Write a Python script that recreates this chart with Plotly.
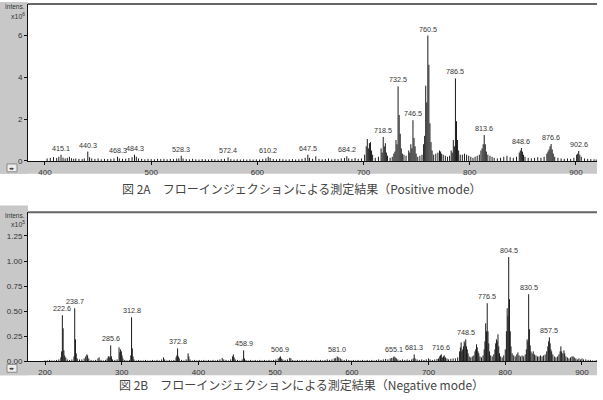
import plotly.graph_objects as go

W, H = 603, 400

# ---------------- data: Positive mode (x10^6) ----------------
pos_mz = [402, 405, 408, 411, 413, 415.1, 417, 419, 421, 423, 425, 427, 429, 432, 435, 437, 440.3, 442, 444, 447,
          450, 453, 456, 459, 462, 465, 468.3, 470, 473, 476, 479, 482, 484.3, 486, 488, 491, 494, 497, 500, 503,
          506, 509, 512, 515, 518, 521, 524, 526, 528.3, 530, 533, 536, 539, 542, 545, 548, 551, 554, 557, 560,
          563, 566, 569, 572.4, 575, 578, 581, 584, 587, 590, 593, 596, 599, 602, 605, 608, 610.2, 612, 615, 618,
          621, 624, 627, 630, 633, 636, 639, 642, 645, 647.5, 649, 652, 655, 658, 661, 664, 667, 670, 673, 676,
          679, 682, 684.2, 686, 689, 692, 695, 698, 701, 702.5, 703.5, 704.5, 705.5, 706.5, 707.5, 708.5, 711, 714,
          716.5, 717.5, 718.5, 719.5, 720.5, 721.5, 722.5, 725, 727, 728.5, 729.5, 730.5, 731.5, 732.5, 733.5, 734.5,
          735.5, 736.5, 738, 740, 742.5, 743.5, 744.5, 745.5, 746.5, 747.5, 748.5, 749.5, 751, 753, 755, 756.5,
          757.5, 758.5, 759.5, 760.5, 761.5, 762.5, 763.5, 764.5, 766, 768, 770, 771.5, 772.5, 773.5, 775, 777,
          779, 781, 782.5, 783.5, 784.5, 785.5, 786.5, 787.5, 788.5, 789.5, 791, 793, 795, 797, 799, 801, 803, 805,
          807, 809, 810.5, 811.6, 812.6, 813.6, 814.6, 815.6, 817, 819, 821, 823, 826, 829, 832, 835, 838, 841,
          844, 846.6, 847.6, 848.6, 849.6, 850.6, 852, 855, 858, 861, 864, 867, 870, 872.6, 873.6, 874.6, 875.6,
          876.6, 877.6, 878.6, 880, 883, 886, 889, 892, 895, 898, 900.6, 901.6, 902.6, 903.6, 905, 908, 911, 914,
          917, 919]
pos_int = [0.12, 0.15, 0.18, 0.14, 0.2, 0.3, 0.16, 0.12, 0.15, 0.2, 0.13, 0.1, 0.12, 0.1, 0.09, 0.12, 0.45, 0.18, 0.12, 0.1,
           0.12, 0.08, 0.1, 0.09, 0.1, 0.12, 0.2, 0.12, 0.1, 0.11, 0.14, 0.18, 0.3, 0.2, 0.12, 0.1, 0.08, 0.1, 0.09, 0.08,
           0.1, 0.09, 0.1, 0.08, 0.1, 0.09, 0.11, 0.12, 0.25, 0.12, 0.09, 0.08, 0.1, 0.08, 0.07, 0.09, 0.08, 0.07, 0.09, 0.08,
           0.07, 0.09, 0.1, 0.17, 0.09, 0.07, 0.08, 0.07, 0.08, 0.07, 0.08, 0.07, 0.08, 0.07, 0.09, 0.12, 0.2, 0.14, 0.09, 0.08,
           0.1, 0.08, 0.07, 0.08, 0.09, 0.07, 0.08, 0.1, 0.15, 0.3, 0.15, 0.1, 0.22, 0.1, 0.08, 0.09, 0.12, 0.08, 0.1, 0.09,
           0.12, 0.14, 0.22, 0.12, 0.1, 0.14, 0.1, 0.12, 0.3, 0.7, 1.05, 0.6, 0.85, 0.9, 0.5, 0.3, 0.15, 0.2,
           0.6, 0.4, 1.15, 0.7, 0.85, 0.4, 0.25, 0.15, 0.2, 0.35, 0.45, 1.0, 0.8, 3.57, 2.2, 1.3,
           0.6, 0.35, 0.3, 0.25, 0.5, 0.4, 0.8, 0.6, 1.95, 1.1, 0.7, 0.35, 0.2, 0.25, 0.3, 0.8,
           1.2, 3.6, 2.8, 6.0, 4.6, 1.8, 0.9, 0.5, 0.3, 0.35, 0.4, 0.5, 0.45, 0.35, 0.3, 0.25,
           0.2, 0.25, 0.5, 0.4, 1.0, 0.7, 3.95, 1.9, 1.0, 0.5, 0.3, 0.3, 0.35, 0.3, 0.25, 0.2, 0.15, 0.2,
           0.25, 0.3, 0.5, 0.6, 0.8, 1.24, 0.8, 0.45, 0.3, 0.25, 0.2, 0.15, 0.12, 0.15, 0.2, 0.25, 0.18, 0.15,
           0.2, 0.4, 0.5, 0.62, 0.45, 0.3, 0.2, 0.15, 0.12, 0.15, 0.18, 0.15, 0.2, 0.35, 0.45, 0.55, 0.7,
           0.81, 0.55, 0.35, 0.2, 0.15, 0.12, 0.1, 0.12, 0.1, 0.15, 0.3, 0.35, 0.48, 0.3, 0.2, 0.12, 0.1, 0.09,
           0.08, 0.07]
pos_label_mz = [415.1, 440.3, 468.3, 484.3, 528.3, 572.4, 610.2, 647.5, 684.2, 718.5, 732.5, 746.5,
                760.5, 786.5, 813.6, 848.6, 876.6, 902.6]
pos_xticks = [400, 500, 600, 700, 800, 900]
pos_yticks = [0, 2, 4, 6]
pos_ytext = ["0", "2", "4", "6"]

# ---------------- data: Negative mode (x10^5) ----------------
neg_mz = [200, 203, 206, 209, 212, 215, 218, 220.6, 221.6, 222.6, 223.6, 224.6, 225.6, 227, 229, 232, 235, 237.7, 238.7,
          239.7, 240.7, 242, 245, 248, 251, 253, 254.5, 255.5, 257, 260, 263, 266, 269, 270.5, 273, 276, 279, 281,
          282.5, 283.5, 284.6, 285.6, 286.6, 288, 291, 294, 296.5, 297.5, 298.5, 299.5, 300.5, 301.5, 304, 307, 310,
          311.8, 312.8, 313.8, 314.8, 316, 319, 322, 325, 328, 331, 334, 337, 340, 343, 346, 349, 352, 354.5, 356,
          359, 362, 365, 368, 370.8, 371.8, 372.8, 373.8, 375, 378, 381, 384, 386.5, 387.5, 389, 392, 395, 398, 401,
          404, 407, 410, 413, 416, 419, 422, 425, 428, 431, 433, 436, 439, 442, 444.5, 445.5, 446.5, 448, 451, 454,
          457, 458.9, 460, 462, 465, 468, 471, 474, 477, 480, 483, 486, 489, 492, 495, 498, 501, 504, 505.9, 506.9,
          508, 510, 513, 516, 519, 520.5, 523, 526, 529, 532, 535, 538, 541, 544, 547, 550, 553, 556, 559, 562, 565,
          568, 571, 574, 577, 579, 581.0, 583, 585, 587, 590, 593, 596, 599, 602, 605, 608, 611, 614, 617, 620, 623,
          626, 629, 632, 635, 638, 641, 644, 647, 650, 652, 654, 655.1, 656.5, 658, 660, 663, 666, 669, 672, 675,
          678, 680, 681.3, 682.5, 685, 688, 691, 694, 697, 700, 702, 705, 708, 711, 713, 714.6, 715.6, 716.6, 718,
          719.5, 720.5, 722, 724, 726, 729, 732, 735, 738, 740.5, 741.5, 742.5, 743.5, 744.5, 745.5, 746.5, 747.5,
          748.5, 749.5, 750.5, 751.5, 753, 755, 757, 759, 760.5, 761.5, 762.5, 763.5, 764.5, 765.5, 767, 769, 771,
          772.5, 773.5, 774.5, 775.5, 776.5, 777.5, 778.5, 779.5, 781, 783, 785, 786.5, 787.5, 788.5, 789.5, 790.5,
          791.5, 792.5, 794, 796, 798, 800, 801.5, 802.5, 803.5, 804.5, 805.5, 806.5, 807.5, 809, 811, 813, 815,
          816.5, 818, 820, 822, 824, 826, 827.5, 828.5, 829.5, 830.5, 831.5, 832.5, 833.5, 835, 836.5, 838, 840,
          842, 844, 846, 848, 850, 852, 854, 855.5, 856.5, 857.5, 858.5, 859.5, 860.5, 862, 864, 866, 868, 870,
          871.5, 872.5, 873.5, 875, 876.5, 877.5, 879, 881, 883, 885, 887, 888.5, 890, 892, 894, 896, 898, 900,
          902, 905, 908, 911, 914, 917, 919]
neg_int = [0.01, 0.01, 0.015, 0.01, 0.01, 0.015, 0.02, 0.04, 0.1, 0.46, 0.33, 0.11, 0.06, 0.04, 0.02, 0.015, 0.02, 0.05, 0.53,
           0.22, 0.08, 0.03, 0.02, 0.02, 0.03, 0.05, 0.07, 0.06, 0.03, 0.015, 0.01, 0.015, 0.03, 0.04, 0.015, 0.01, 0.015, 0.03,
           0.05, 0.05, 0.04, 0.16, 0.05, 0.02, 0.015, 0.02, 0.14, 0.09, 0.12, 0.1, 0.06, 0.03, 0.015, 0.01, 0.015,
           0.06, 0.44, 0.13, 0.05, 0.02, 0.01, 0.015, 0.01, 0.01, 0.015, 0.01, 0.01, 0.015, 0.01, 0.015, 0.01, 0.02, 0.04, 0.02,
           0.01, 0.015, 0.01, 0.015, 0.04, 0.06, 0.13, 0.05, 0.03, 0.015, 0.01, 0.02, 0.08, 0.05, 0.02, 0.01, 0.015, 0.01, 0.015,
           0.01, 0.015, 0.01, 0.015, 0.01, 0.015, 0.01, 0.015, 0.02, 0.035, 0.02, 0.015, 0.01, 0.02, 0.05, 0.07, 0.04, 0.02, 0.015, 0.01,
           0.02, 0.11, 0.03, 0.015, 0.01, 0.015, 0.01, 0.015, 0.01, 0.015, 0.01, 0.015, 0.01, 0.015, 0.01, 0.015, 0.02, 0.03, 0.04, 0.05,
           0.03, 0.02, 0.015, 0.02, 0.035, 0.03, 0.015, 0.01, 0.015, 0.01, 0.015, 0.01, 0.015, 0.01, 0.015, 0.01, 0.015, 0.01, 0.015, 0.01, 0.015,
           0.02, 0.015, 0.02, 0.03, 0.035, 0.05, 0.04, 0.03, 0.02, 0.015, 0.02, 0.015, 0.01, 0.015, 0.01, 0.015, 0.01, 0.015, 0.01, 0.015, 0.01,
           0.015, 0.01, 0.015, 0.02, 0.015, 0.02, 0.025, 0.02, 0.03, 0.035, 0.04, 0.05, 0.04, 0.03, 0.02, 0.015, 0.02, 0.015, 0.02, 0.015,
           0.02, 0.03, 0.07, 0.03, 0.02, 0.015, 0.02, 0.015, 0.02, 0.03, 0.02, 0.015, 0.02, 0.025, 0.03, 0.05, 0.06, 0.07, 0.04,
           0.05, 0.06, 0.04, 0.03, 0.02, 0.025, 0.03, 0.03, 0.04, 0.1, 0.14, 0.19, 0.1, 0.12, 0.15, 0.2, 0.18,
           0.22, 0.15, 0.12, 0.08, 0.05, 0.04, 0.05, 0.06, 0.1, 0.12, 0.17, 0.14, 0.1, 0.08, 0.05, 0.04, 0.06,
           0.12, 0.2, 0.38, 0.3, 0.58, 0.3, 0.18, 0.1, 0.06, 0.05, 0.07, 0.12, 0.18, 0.22, 0.2, 0.27,
           0.15, 0.08, 0.05, 0.04, 0.06, 0.12, 0.3, 0.53, 0.45, 1.04, 0.62, 0.3, 0.15, 0.08, 0.06, 0.05, 0.07,
           0.09, 0.06, 0.05, 0.06, 0.05, 0.07, 0.12, 0.22, 0.2, 0.67, 0.32, 0.16, 0.1, 0.08, 0.1, 0.07, 0.06,
           0.05, 0.05, 0.06, 0.05, 0.06, 0.07, 0.1, 0.15, 0.2, 0.24, 0.18, 0.12, 0.1, 0.07, 0.05, 0.04, 0.05, 0.07,
           0.1, 0.15, 0.1, 0.08, 0.11, 0.08, 0.05, 0.04, 0.03, 0.04, 0.05, 0.05, 0.04, 0.03, 0.02, 0.03, 0.02, 0.03,
           0.02, 0.02, 0.015, 0.015, 0.01, 0.01, 0.01]
neg_label_mz = [222.6, 238.7, 285.6, 312.8, 372.8, 458.9, 506.9, 581.0, 655.1, 681.3, 716.6, 748.5,
                776.5, 804.5, 830.5, 857.5]
neg_xticks = [200, 300, 400, 500, 600, 700, 800, 900]
neg_yticks = [0, 0.25, 0.5, 0.75, 1.0, 1.25]
neg_ytext = ["0.00", "0.25", "0.50", "0.75", "1.00", "1.25"]

caption_a = "図 2A　フローインジェクションによる測定結果（Positive mode）"
caption_b = "図 2B　フローインジェクションによる測定結果（Negative mode）"


def px(p):
    return p / W


def py(p):
    return 1 - p / H


def sticks(mz, inten):
    xs, ys = [], []
    for m, h in zip(mz, inten):
        xs += [m, m, None]
        ys += [0, h, None]
    return xs, ys


fig = go.Figure()
LINE = "#1c1c1c"
TXT = "#333333"
SMALL = dict(family="Liberation Sans, Arial, sans-serif", size=8, color=TXT)
PEAK = dict(family="Liberation Sans, Arial, sans-serif", size=7.2, color=TXT)

xs, ys = sticks(pos_mz, pos_int)
fig.add_trace(go.Scatter(x=xs, y=ys, mode="lines", line=dict(color=LINE, width=1),
                         xaxis="x", yaxis="y", showlegend=False, hoverinfo="skip"))
xs, ys = sticks(neg_mz, neg_int)
fig.add_trace(go.Scatter(x=xs, y=ys, mode="lines", line=dict(color=LINE, width=1),
                         xaxis="x2", yaxis="y2", showlegend=False, hoverinfo="skip"))

ax_common = dict(showline=True, linecolor="#111", linewidth=1, ticks="outside", ticklen=3,
                 tickcolor="#111", showgrid=False, zeroline=False, tickfont=SMALL, fixedrange=True)

fig.update_layout(
    width=W, height=H, margin=dict(l=0, r=0, t=0, b=0),
    paper_bgcolor="white", plot_bgcolor="white", showlegend=False,
    xaxis=dict(domain=[px(28), px(597)], range=[384, 919.8], anchor="y",
               tickvals=pos_xticks, **ax_common),
    yaxis=dict(domain=[py(163), py(4)], range=[0, 7.51], anchor="x",
               tickvals=pos_yticks, ticktext=pos_ytext, **ax_common),
    xaxis2=dict(domain=[px(28), px(597)], range=[177.8, 919.6], anchor="y2",
                tickvals=neg_xticks, **ax_common),
    yaxis2=dict(domain=[py(366), py(215)], range=[0, 1.486], anchor="x2",
                tickvals=neg_yticks, ticktext=neg_ytext, **ax_common),
)

GRAY = "#c8c8c8"
shapes = []
for top, base, bottom in [(2, 163, 176), (208, 366, 380)]:
    shapes.append(dict(type="rect", xref="paper", yref="paper", x0=0, x1=px(28),
                       y0=py(bottom), y1=py(top), fillcolor=GRAY, line=dict(width=0), layer="below"))
    shapes.append(dict(type="rect", xref="paper", yref="paper", x0=0, x1=px(597),
                       y0=py(bottom), y1=py(base), fillcolor=GRAY, line=dict(width=0), layer="below"))
    # icon box
    shapes.append(dict(type="rect", xref="paper", yref="paper", x0=px(7), x1=px(17),
                       y0=py(base + 11), y1=py(base + 3), fillcolor="#ececec",
                       line=dict(width=1, color="#8a8a8a"), layer="above"))
for ytop in [4, 215]:
    shapes.append(dict(type="line", xref="paper", yref="paper", x0=px(28), x1=px(597),
                       y0=py(ytop), y1=py(ytop), line=dict(color="#666", width=2)))
fig.update_layout(shapes=shapes)

ann = []
for lbl, mzs, ints, xr, yr in [(pos_label_mz, pos_mz, pos_int, "x", "y"),
                               (neg_label_mz, neg_mz, neg_int, "x2", "y2")]:
    lookup = dict(zip(mzs, ints))
    for m in lbl:
        ann.append(dict(x=m, y=lookup[m], xref=xr, yref=yr, text=f"{m:.1f}", showarrow=False,
                        yanchor="bottom", xanchor="center", yshift=0, font=PEAK))

for ytext, yexp, exp, base in [(7, 16, "6", 163), (218, 227, "5", 366)]:
    ann.append(dict(x=px(15), y=py(ytext), xref="paper", yref="paper", text="Intens.",
                    xanchor="center", yanchor="middle", showarrow=False,
                    font=dict(family="Liberation Sans, Arial", size=6.5, color=TXT)))
    ann.append(dict(x=px(18), y=py(yexp), xref="paper", yref="paper", text="x10<sup>" + exp + "</sup>",
                    xanchor="center", yanchor="middle", showarrow=False,
                    font=dict(family="Liberation Sans, Arial", size=7, color=TXT)))
    ann.append(dict(x=px(12), y=py(base + 7), xref="paper", yref="paper", text="◂▸",
                    xanchor="center", yanchor="middle", showarrow=False,
                    font=dict(family="DejaVu Sans", size=5, color="#333")))

CAP = dict(family="Noto Sans CJK JP", size=12, color="#444")
ann.append(dict(x=0.5, y=py(191), xref="paper", yref="paper", text=caption_a,
                xanchor="center", yanchor="middle", showarrow=False, font=CAP))
ann.append(dict(x=0.5, y=py(389), xref="paper", yref="paper", text=caption_b,
                xanchor="center", yanchor="middle", showarrow=False, font=CAP))
fig.update_layout(annotations=ann)

fig.write_html("out.html")
